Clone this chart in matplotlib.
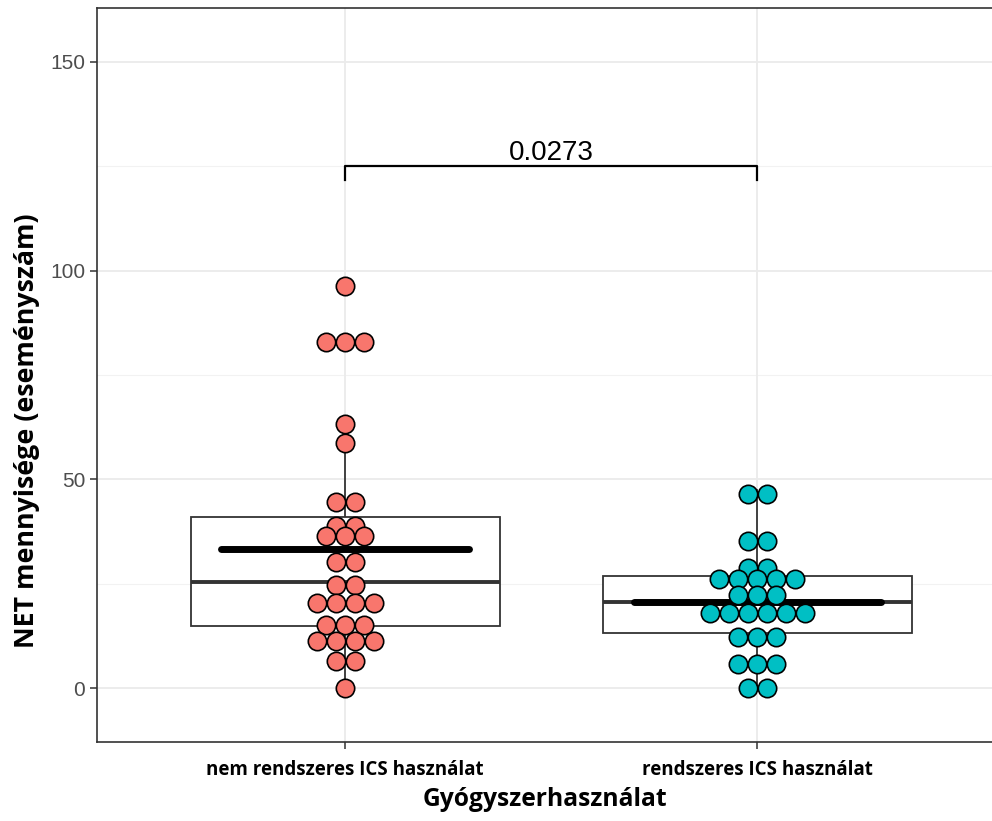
import matplotlib
matplotlib.use("Agg")
import matplotlib.pyplot as plt
import numpy as np
from collections import Counter

categories = ["nem rendszeres ICS használat", "rendszeres ICS használat"]
colors = ["#F8766D", "#00BFC4"]

# dot values (binned)
values_g1 = [96.4, 82.8, 82.8, 82.8, 63.2, 58.6, 44.7, 44.7, 38.8, 38.8,
             36.4, 36.4, 36.4, 30.2, 30.2, 24.6, 24.6, 20.3, 20.3, 20.3, 20.3,
             15.1, 15.1, 15.1, 11.3, 11.3, 11.3, 11.3, 6.5, 6.5, 0.0]
values_g2 = [46.6, 46.6, 35.2, 35.2, 28.8, 28.8, 26.2, 26.2, 26.2, 26.2, 26.2,
             22.4, 22.4, 22.4, 18.0, 18.0, 18.0, 18.0, 18.0, 18.0,
             12.3, 12.3, 12.3, 5.9, 5.9, 5.9, 0.0, 0.0]

# box statistics
box_q1 = [14.8, 13.1]
box_med = [25.4, 20.7]
box_q3 = [41.1, 26.8]
whisk_lo = [0.0, 0.0]
whisk_hi = [63.0, 47.5]
means = [33.3, 20.7]

p_label = "0.0273"
bracket_y = 125.1
bracket_tick = 3.3

fig = plt.figure(figsize=(9.92, 8.21), dpi=100)
ax = fig.add_axes([97/992, 79/821, 1 - 97/992, (742-8)/821])

ax.set_xlim(0.398, 2.57)
ax.set_ylim(-12.9, 162.9)

# grid
for y in [0, 50, 100, 150]:
    ax.axhline(y, color="#EBEBEB", lw=1.3, zorder=0)
for y in [25, 75, 125]:
    ax.axhline(y, color="#F2F2F2", lw=0.8, zorder=0)
for x in [1, 2]:
    ax.axvline(x, color="#EBEBEB", lw=1.3, zorder=0)

dark = "#333333"
bw = 0.75
for i in range(2):
    x = i + 1
    ax.plot([x, x], [whisk_lo[i], box_q1[i]], color=dark, lw=1.3, zorder=1)
    ax.plot([x, x], [box_q3[i], whisk_hi[i]], color=dark, lw=1.3, zorder=1)
    rect = plt.Rectangle((x - bw/2, box_q1[i]), bw, box_q3[i] - box_q1[i],
                         facecolor="white", edgecolor=dark, lw=1.3, zorder=2)
    ax.add_patch(rect)
    ax.plot([x - bw/2, x + bw/2], [box_med[i], box_med[i]], color=dark, lw=2.8, zorder=3,
            solid_capstyle="butt")
    ax.plot([x - 0.3, x + 0.3], [means[i], means[i]], color="black", lw=5, zorder=4,
            solid_capstyle="round")

# dots
d = 0.0461
for i, vals in enumerate([values_g1, values_g2]):
    x0 = i + 1
    cnt = Counter(vals)
    xs, ys = [], []
    for v, n in cnt.items():
        for k in range(n):
            xs.append(x0 + (k - (n - 1) / 2) * d)
            ys.append(v)
    ax.scatter(xs, ys, s=175, facecolor=colors[i], edgecolor="black", linewidth=1.2, zorder=5)

# bracket
ax.plot([1, 1, 2, 2], [bracket_y - bracket_tick, bracket_y, bracket_y, bracket_y - bracket_tick],
        color="black", lw=1.6, zorder=6)
ax.text(1.5, bracket_y + 1.5, p_label, ha="center", va="baseline", fontsize=20,
        family="Liberation Sans", color="black")

ax.set_yticks([0, 50, 100, 150])
ax.set_yticklabels(["0", "50", "100", "150"], family="Liberation Sans", fontsize=15,
                   color="#4D4D4D")
ax.set_xticks([1, 2])
ax.set_xticklabels(categories, family="Open Sans", fontweight="bold", fontsize=13.5,
                   color="black")
ax.tick_params(axis="both", color=dark, length=5, width=1.1)
ax.tick_params(axis="x", pad=8)

for s in ["left", "bottom", "top"]:
    ax.spines[s].set_color(dark)
    ax.spines[s].set_linewidth(1.2)
ax.spines["right"].set_visible(False)

ax.set_xlabel("Gyógyszerhasználat", family="Open Sans", fontweight="bold", fontsize=17.7,
              labelpad=5)
fig.text(27/992, 1 - 431/821, "NET mennyisége (eseményszám)", family="Open Sans",
         fontweight="bold", fontsize=19.3, rotation=90, ha="center", va="center")

fig.savefig("out.png", dpi=100)
